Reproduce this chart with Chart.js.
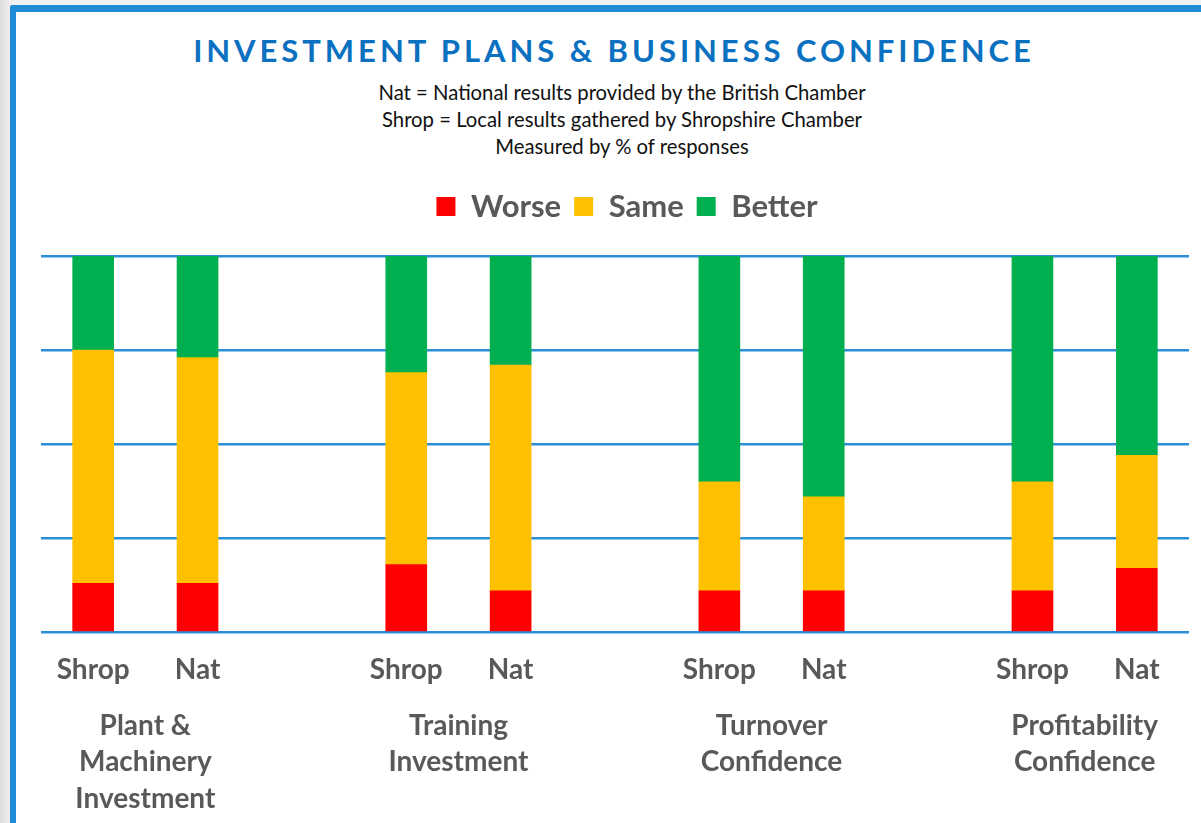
<!DOCTYPE html>
<html>
<head>
<meta charset="utf-8">
<script src="https://cdn.jsdelivr.net/npm/chart.js"></script>
<style>
  html, body { margin: 0; padding: 0; }
  body { width: 1201px; height: 823px; overflow: hidden; position: relative;
         background: linear-gradient(to right, #dcdcdc 0px, #efefef 10px, #f2f2f2 20px); font-family: Lato, sans-serif; }
  #frame { position: absolute; left: 10px; top: 5px; width: 1260px; height: 900px;
           border-left: 6px solid #1f8bd6; border-top: 7px solid #1f8bd6; border-top-left-radius: 3px; background: #fff; }
  #title { position: absolute; left: 0; width: 1228px; top: 31px; text-align: center;
           color: #0a70c0; font-weight: bold; font-size: 31px; letter-spacing: 3.95px; line-height: 38px; }
  #sub { position: absolute; left: 0; width: 1244px; top: 79px; text-align: center;
         color: #111; font-size: 20.3px; line-height: 27px; }
  #chart { position: absolute; left: 0; top: 0; }
</style>
</head>
<body>
<div id="frame"></div>
<div id="title">INVESTMENT PLANS &amp; BUSINESS CONFIDENCE</div>
<div id="sub">Nat = National results provided by the British Chamber<br>Shrop = Local results gathered by Shropshire Chamber<br>Measured by % of responses</div>
<canvas id="chart" width="1201" height="823"></canvas>
<script>
// blank slots keep the gap between the four groups
var bar_labels = ['Shrop', 'Nat', '', 'Shrop', 'Nat', '', 'Shrop', 'Nat', '', 'Shrop', 'Nat'];
var worse  = [13, 13, null, 18, 11, null, 11, 11, null, 11, 17];
var same   = [62, 60, null, 51, 60, null, 29, 25, null, 29, 30];
var better = [25, 27, null, 31, 29, null, 60, 64, null, 60, 53];
var group_labels = [['Plant &', 'Machinery', 'Investment'], ['Training', 'Investment'],
                    ['Turnover', 'Confidence'], ['Profitability', 'Confidence']];
var group_pos = [0.5, 3.5, 6.5, 9.5];
var y_ticks = [0, 25, 50, 75, 100];

var grey = '#595959';
var line_blue = '#2a8fd6';

// extra room between the legend and the plot, legend nudged right a bit
var legendGap = {
  id: 'legendGap',
  beforeInit: function (chart) {
    if (!chart.legend) return;
    var fit = chart.legend.fit;
    chart.legend.fit = function () {
      fit.call(this);
      this.height += 24;
    };
  },
  afterLayout: function (chart) {
    if (!chart.legend) return;
    chart.legend.left += 12;
    chart.legend.right += 12;
  }
};

Chart.defaults.font.family = 'Lato, sans-serif';

var ctx = document.getElementById('chart').getContext('2d');
var chart = new Chart(ctx, {
  type: 'bar',
  data: {
    labels: bar_labels,
    datasets: [
      { label: 'Worse', data: worse, backgroundColor: '#ff0000' },
      { label: 'Same', data: same, backgroundColor: '#ffc000' },
      { label: 'Better', data: better, backgroundColor: '#00b050' }
    ]
  },
  options: {
    responsive: false,
    animation: false,
    layout: { padding: { top: 178, left: 41, right: 12, bottom: 6 } },
    datasets: { bar: { barThickness: 41 } },
    plugins: {
      tooltip: { enabled: false },
      legend: {
        position: 'top',
        labels: {
          color: grey,
          font: { size: 31, weight: 'bold' },
          boxWidth: 19, boxHeight: 19, padding: 13
        }
      }
    },
    scales: {
      x: {
        stacked: true,
        weight: 0,
        grid: { display: false, drawTicks: false },
        border: { display: false },
        ticks: { color: grey, font: { size: 28, weight: 'bold' }, padding: 21, maxRotation: 0, autoSkip: false }
      },
      x2: {
        type: 'linear',
        position: 'bottom',
        weight: 1,
        offset: false,
        min: -0.5, max: 10.5,
        grid: { display: false, drawTicks: false },
        border: { display: false },
        afterBuildTicks: function (axis) {
          axis.ticks = group_pos.map(function (v) { return { value: v }; });
        },
        ticks: {
          color: grey, font: { size: 28, weight: 'bold', lineHeight: 1.3 },
          padding: 0, maxRotation: 0, autoSkip: false,
          callback: function (value, index) { return group_labels[index]; }
        }
      },
      y: {
        stacked: true,
        min: 0, max: 100,
        afterBuildTicks: function (axis) {
          axis.ticks = y_ticks.map(function (v) { return { value: v }; });
        },
        ticks: { display: false },
        grid: { color: line_blue, lineWidth: 2.5, drawTicks: false },
        border: { display: false }
      }
    }
  },
  plugins: [legendGap]
});
</script>
</body>
</html>
